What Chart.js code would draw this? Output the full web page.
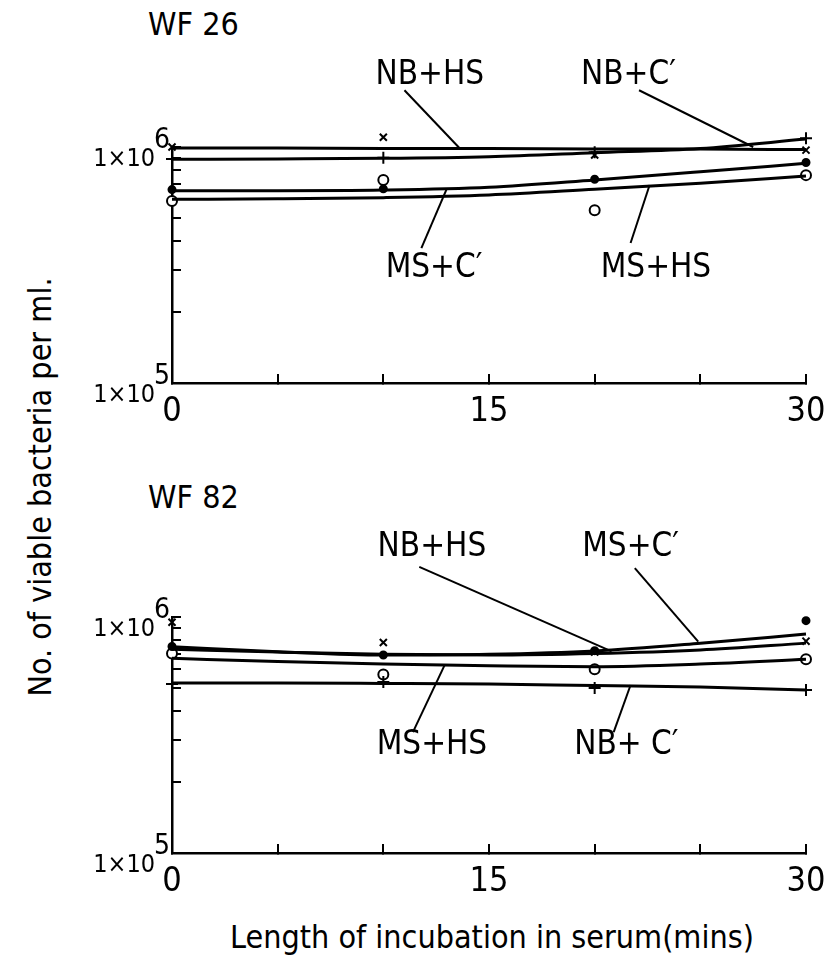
<!DOCTYPE html>
<html>
<head>
<meta charset="utf-8">
<script src="https://cdn.jsdelivr.net/npm/chart.js@4.4.1/dist/chart.umd.min.js"></script>
<style>
  body { margin: 0; background: #fff; }
  #page { position: relative; width: 826px; height: 977px; overflow: hidden; background: #fff;
          font-family: "DejaVu Sans Condensed", "DejaVu Sans", sans-serif; color: #000; }
  canvas { position: absolute; left: 0; }
  .txt { position: absolute; white-space: nowrap; line-height: 1; }
  #wf26 { left: 148px; top: 8px; font-size: 32px; }
  #wf82 { left: 148px; top: 481px; font-size: 32px; }
  #ytitle { left: 40px; top: 487px; font-size: 32px; transform: translate(-50%, -50%) rotate(-90deg); }
  #xtitle { left: 492px; top: 937px; font-size: 32px; transform: translate(-50%, -50%); }
</style>
</head>
<body>
<div id="page">
  <div class="txt" id="wf26">WF 26</div>
  <div class="txt" id="wf82">WF 82</div>
  <div class="txt" id="ytitle">No. of viable bacteria per ml.</div>
  <div class="txt" id="xtitle">Length of incubation in serum(mins)</div>
  <canvas id="chartTop" width="826" height="470" style="top:0"></canvas>
  <canvas id="chartBottom" width="826" height="470" style="top:470px"></canvas>
</div>
<script>
const minutes = [0, 5, 10, 15, 20, 25, 30];
const sampleMinutes = [0, 10, 20, 30];
const xTickLabels = [0, 15, 30];
const yTickValues = [100000, 200000, 300000, 400000, 500000, 600000, 700000, 800000, 900000, 1000000];
const seriesNames = ['NB+HS', 'NB+C′', 'MS+C′', 'MS+HS'];

// WF 26 - drawn curves
const wf26NbHs = [990000, 990000, 985000, 985000, 980000, 980000, 975000];
const wf26NbC = [887000, 890000, 895000, 910000, 946000, 985000, 1080000];
const wf26MsC = [653000, 653000, 657000, 675000, 725000, 785000, 853000];
const wf26MsHs = [600000, 603000, 610000, 626000, 662000, 702000, 754000];
// WF 26 - plotted counts
const wf26NbHsPts = [1000000, 1100000, 925000, 970000];
const wf26NbCPts = [890000, 900000, 950000, 1090000];
const wf26MsCPts = [660000, 665000, 730000, 860000];
const wf26MsHsPts = [590000, 725000, 540000, 760000];

// WF 82 - drawn curves
const wf82NbHs = [730000, 710000, 695000, 690000, 700000, 725000, 775000];
const wf82NbC = [525000, 525000, 523000, 520000, 512000, 505000, 490000];
const wf82MsC = [748000, 713000, 690000, 695000, 718000, 774000, 847000];
const wf82MsHs = [668000, 648000, 632000, 622000, 616000, 632000, 662000];
// WF 82 - plotted counts
const wf82NbHsPts = [950000, 780000, 710000, 790000];
const wf82NbCPts = [520000, 530000, 500000, 490000];
const wf82MsCPts = [750000, 690000, 720000, 965000];
const wf82MsHsPts = [700000, 570000, 600000, 662000];

// marker look for each series (same order as seriesNames)
const markers = [
  { style: 'crossRot', fill: '#000', r: 5 },
  { style: 'cross', fill: '#000', r: 6 },
  { style: 'circle', fill: '#000', r: 3.5 },
  { style: 'circle', fill: '#fff', r: 5 }
];

// curve labels with leader lines: text, label centre, leader start, leader end (minutes, count)
const wf26Notes = [
  { text: 'NB+HS', at: [12.2, 2020000], from: [11.0, 1740000], to: [13.6, 990000] },
  { text: 'NB+C′', at: [21.6, 2020000], from: [22.1, 1740000], to: [27.5, 1000000] },
  { text: 'MS+C′', at: [12.4, 307000], from: [11.8, 373000], to: [13.0, 665000] },
  { text: 'MS+HS', at: [22.9, 307000], from: [21.7, 392000], to: [22.6, 690000] }
];
const wf82Notes = [
  { text: 'NB+HS', at: [12.3, 1980000], from: [11.7, 1630000], to: [20.8, 715000] },
  { text: 'MS+C′', at: [21.7, 1980000], from: [21.9, 1610000], to: [24.9, 786000] },
  { text: 'MS+HS', at: [12.3, 287000], from: [11.4, 325000], to: [12.9, 625000] },
  { text: 'NB+ C′', at: [21.5, 287000], from: [20.9, 325000], to: [21.7, 515000] }
];

const FONT = '"DejaVu Sans Condensed", "DejaVu Sans", sans-serif';
const everywhere = { left: -1e4, top: -1e4, right: 1e4, bottom: 1e4 };

function makePanel(canvasId, curves, points, notes) {
  const datasets = [];
  curves.forEach((c, i) => {
    datasets.push({
      label: seriesNames[i],
      data: minutes.map((m, k) => ({ x: m, y: c[k] })),
      borderColor: '#000',
      borderWidth: 3,
      pointRadius: 0,
      cubicInterpolationMode: 'monotone',
      clip: false
    });
  });
  points.forEach((p, i) => {
    datasets.push({
      label: seriesNames[i] + ' counts',
      data: sampleMinutes.map((m, k) => ({ x: m, y: p[k] })),
      showLine: false,
      pointStyle: markers[i].style,
      pointRadius: markers[i].r,
      pointBorderWidth: 2,
      pointBorderColor: '#000',
      pointBackgroundColor: markers[i].fill,
      clip: false
    });
  });

  const notesPlugin = {
    id: 'notes',
    afterDatasetsDraw(chart) {
      // counts lying just above the 10^6 line are skipped by Chart.js, draw them too
      const ctx = chart.ctx;
      chart.data.datasets.forEach((ds, i) => {
        if (ds.showLine !== false) return;
        chart.getDatasetMeta(i).data.forEach(el => {
          if (el.y < chart.chartArea.top) el.draw(ctx, everywhere);
        });
      });
    },
    afterDraw(chart) {
      const { ctx, scales: { x, y } } = chart;
      ctx.save();
      ctx.strokeStyle = '#000';
      ctx.fillStyle = '#000';
      ctx.lineWidth = 2;
      ctx.font = '33px ' + FONT;
      ctx.textAlign = 'center';
      ctx.textBaseline = 'middle';
      notes.forEach(n => {
        ctx.beginPath();
        ctx.moveTo(x.getPixelForValue(n.from[0]), y.getPixelForValue(n.from[1]));
        ctx.lineTo(x.getPixelForValue(n.to[0]), y.getPixelForValue(n.to[1]));
        ctx.stroke();
        ctx.fillText(n.text, x.getPixelForValue(n.at[0]), y.getPixelForValue(n.at[1]));
      });
      // y tick labels: 1x10^n at each decade
      const left = chart.chartArea.left;
      y.ticks.forEach(t => {
        const e = Math.log10(t.value);
        if (Math.abs(e - Math.round(e)) > 1e-9) return;
        const py = y.getPixelForValue(t.value);
        ctx.textAlign = 'right';
        ctx.textBaseline = 'alphabetic';
        ctx.font = '25px ' + FONT;
        ctx.fillText('1×10', left - 17, py + 19);
        ctx.textAlign = 'left';
        ctx.font = '28px ' + FONT;
        ctx.fillText(String(Math.round(e)), left - 18, py + 1);
      });
      ctx.restore();
    }
  };

  return new Chart(document.getElementById(canvasId), {
    type: 'line',
    data: { datasets },
    options: {
      responsive: false,
      animation: false,
      devicePixelRatio: 1,
      layout: { padding: { left: 172, right: 20, top: 147, bottom: 27 } },
      plugins: { legend: { display: false }, tooltip: { enabled: false } },
      scales: {
        x: {
          type: 'linear',
          min: 0,
          max: 30,
          afterFit: s => { s.height = 60; s.paddingLeft = 0; s.paddingRight = 0; },
          border: { display: true, color: '#000', width: 2.5 },
          grid: { drawOnChartArea: false, color: '#000', lineWidth: 2, tickLength: -9 },
          ticks: {
            stepSize: 5,
            autoSkip: false,
            maxRotation: 0,
            padding: 18,
            color: '#000',
            font: { family: FONT, size: 34 },
            callback: v => xTickLabels.includes(v) ? String(v) : ''
          }
        },
        y: {
          type: 'logarithmic',
          min: 100000,
          max: 1000000,
          afterFit: s => { s.width = 0; },
          afterBuildTicks: s => { s.ticks = yTickValues.map(v => ({ value: v })); },
          border: { display: true, color: '#000', width: 2.5 },
          grid: { drawOnChartArea: false, color: '#000', lineWidth: 2, tickLength: -9 },
          ticks: { display: false, autoSkip: false }
        }
      }
    },
    plugins: [notesPlugin]
  });
}

makePanel('chartTop',
  [wf26NbHs, wf26NbC, wf26MsC, wf26MsHs],
  [wf26NbHsPts, wf26NbCPts, wf26MsCPts, wf26MsHsPts],
  wf26Notes);
makePanel('chartBottom',
  [wf82NbHs, wf82NbC, wf82MsC, wf82MsHs],
  [wf82NbHsPts, wf82NbCPts, wf82MsCPts, wf82MsHsPts],
  wf82Notes);
</script>
</body>
</html>
